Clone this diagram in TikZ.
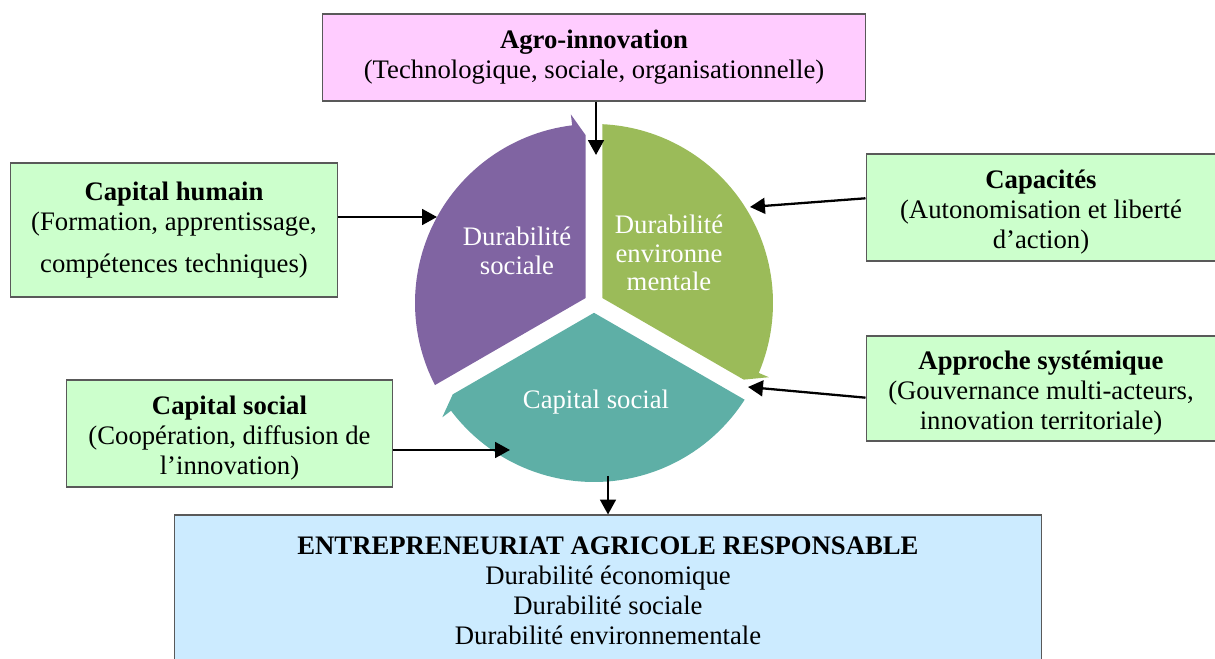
\documentclass[tikz,border=0pt]{standalone}
\usepackage{fontspec}
\setmainfont{Liberation Serif}
\usetikzlibrary{arrows.meta}

\definecolor{segpurple}{HTML}{8064A2}
\definecolor{seggreen}{HTML}{9BBB59}
\definecolor{segteal}{HTML}{5EAFA6}
\definecolor{boxgreen}{HTML}{CCFFCC}
\definecolor{boxpink}{HTML}{FFCCFF}
\definecolor{boxblue}{HTML}{CCEBFF}

\newcommand\boxstrut{\rule{0pt}{16pt}}

\tikzset{
	box/.style={draw=black!65, line width=0.6pt, align=center, inner sep=0pt, font=\fontsize{15.2}{17}\selectfont},
	seglabel/.style={text=white, align=center, font=\fontsize{15.2}{16.3}\selectfont},
	arr/.style={line width=1.3pt, -{Triangle[length=8.5pt, width=9pt]}}
}

\begin{document}
\begin{tikzpicture}[x=0.02cm, y=0.02cm]
\useasboundingbox (0,0) rectangle (1215,659);

\foreach \rot/\col in {0/segpurple, -120/seggreen, 120/segteal}{
	\fill[\col, shift={(594,356)}, rotate=\rot] (150:9.8) -- (-8.5,168) -- (97:190) -- (97:179)
		arc[start angle=97, end angle=207.3, radius=179] -- cycle;
}

\node[seglabel](dsoc) at (517,408) {Durabilité\\sociale};
\node[seglabel](denv) at (669,406) {Durabilité\\environne\\mentale};
\node[seglabel](csoc) at (596,257) {Capital social};

\node[box, fill=boxpink, minimum width=10.88cm, minimum height=1.74cm](agro) at (594,601.5)
	{\textbf{Agro-innovation}\\(Technologique, sociale, organisationnelle)};
\node[box, fill=boxgreen, minimum width=6.56cm, minimum height=2.68cm](hum) at (174,429)
	{\textbf{Capital humain}\\(Formation, apprentissage,\\[7pt]compétences techniques)};
\node[box, fill=boxgreen, minimum width=7cm, minimum height=2.14cm](cap) at (1041,451.5)
	{\boxstrut\textbf{Capacités}\\(Autonomisation et liberté\\d’action)};
\node[box, fill=boxgreen, minimum width=7cm, minimum height=2.1cm](sys) at (1041,270.5)
	{\boxstrut\textbf{Approche systémique}\\(Gouvernance multi-acteurs,\\innovation territoriale)};
\node[box, fill=boxgreen, minimum width=6.54cm, minimum height=2.14cm](soc) at (229.5,225.5)
	{\boxstrut\textbf{Capital social}\\(Coopération, diffusion de\\l’innovation)};
\node[box, fill=boxblue, minimum width=17.36cm, minimum height=3.04cm](ent) at (608,68)
	{\textbf{ENTREPRENEURIAT AGRICOLE RESPONSABLE}\\Durabilité économique\\Durabilité sociale\\Durabilité environnementale};

\coordinate(agro-in) at (596,504);
\coordinate(hum-in) at (437,442);
\coordinate(cap-in) at (750,452);
\coordinate(sys-in) at (748,272);
\coordinate(soc-in) at (510,209);
\coordinate(ent-out) at (608,183);

\draw[arr] (agro.south -| agro-in) -- (agro-in);
\draw[arr] (hum.east |- hum-in) -- (hum-in);
\draw[arr] (cap.177) -- (cap-in);
\draw[arr] (sys.183) -- (sys-in);
\draw[arr] (soc.east |- soc-in) -- (soc-in);
\draw[arr] (ent-out) -- (ent.north -| ent-out);
\end{tikzpicture}
\end{document}
